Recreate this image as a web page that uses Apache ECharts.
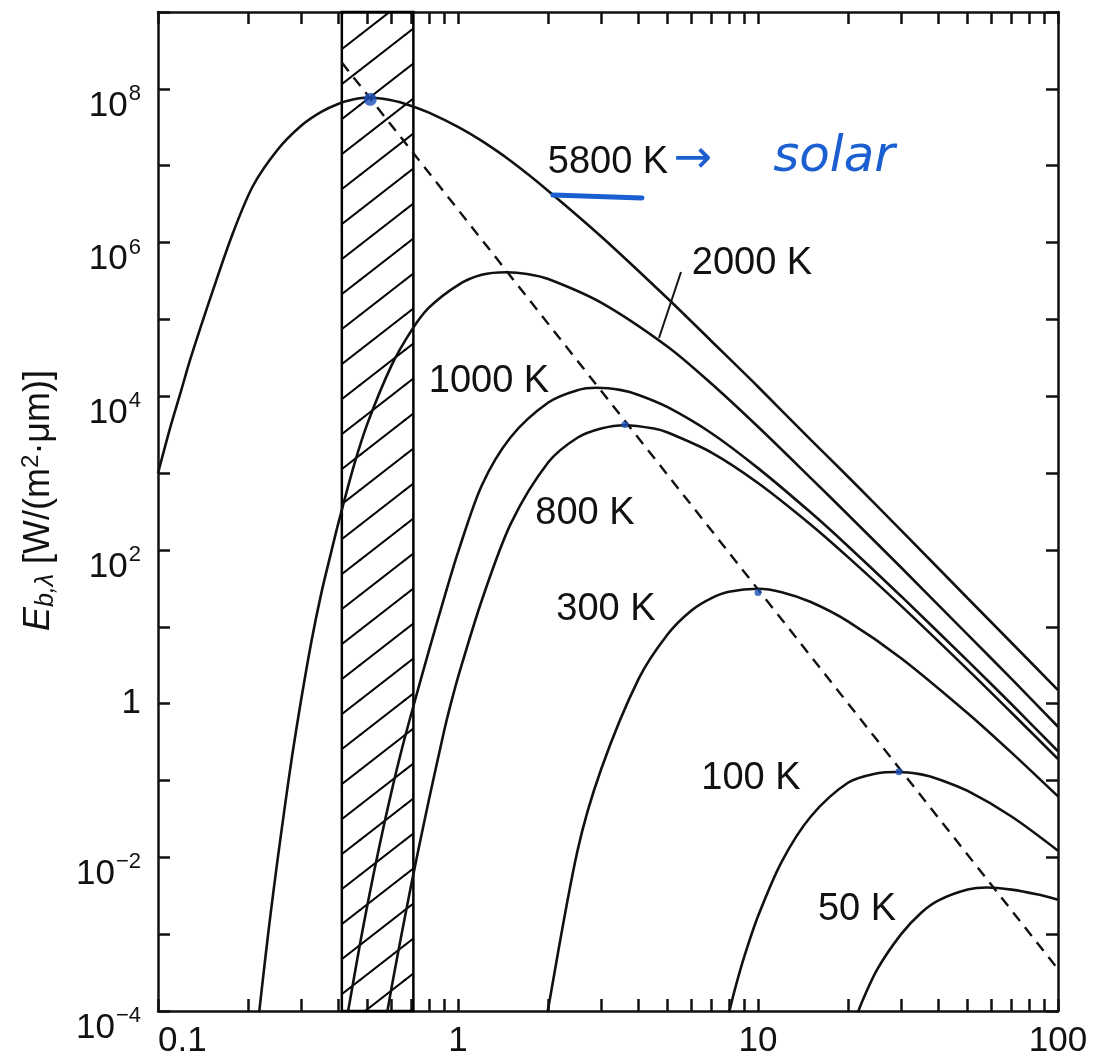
<!DOCTYPE html>
<html>
<head>
<meta charset="utf-8">
<script src="https://cdn.jsdelivr.net/npm/echarts@6/dist/echarts.min.js"></script>
<style>
  html, body { margin: 0; padding: 0; background: #fff; }
  #main { width: 1093px; height: 1064px; }
</style>
</head>
<body>
<div id="main"></div>
<script>
// wavelength (um) / emissive power E_b,lambda (W/m2.um)
var lam5800 = [0.1, 0.11, 0.12, 0.128, 0.1525, 0.178, 0.207, 0.25, 0.3, 0.35, 0.4, 0.45, 0.5, 0.6, 0.7, 0.8, 1, 1.2, 1.5, 2, 3, 5, 7, 10, 15, 20, 30, 50, 70, 100];
var eb5800 = [1.0e3, 4.0e3, 1.26e4, 3.0e4, 2.4e5, 1.35e6, 5.4e6, 1.6e7, 3.3e7, 5.0e7, 6.4e7, 7.3e7, 7.7e7, 7.1e7, 6.0e7, 4.9e7, 3.2e7, 2.1e7, 1.15e7, 4.7e6, 1.2e6, 1.87e5, 5.2e4, 1.33e4, 2.7e3, 890, 180, 23.5, 6.2, 1.5];

var lam2000 = [0.215, 0.222, 0.235, 0.25, 0.265, 0.28, 0.3, 0.325, 0.35, 0.375, 0.4, 0.45, 0.5, 0.6, 0.7, 0.8, 1, 1.2, 1.45, 1.7, 2, 3, 5, 7, 10, 15, 20, 30, 50, 70, 100];
var eb2000 = [6.5e-5, 2.0e-4, 1.35e-3, 8.9e-3, 0.047, 0.21, 1.12, 6.6, 27, 83, 230, 1.26e3, 4.5e3, 2.5e4, 7.2e4, 1.42e5, 2.8e5, 3.8e5, 4.1e5, 3.9e5, 3.35e5, 1.65e5, 4.4e4, 1.45e4, 4.0e3, 860, 285, 59, 7.9, 2.1, 0.5];

var lam1000 = [0.425, 0.443, 0.47, 0.5, 0.55, 0.6, 0.65, 0.707, 0.8, 0.9, 1, 1.2, 1.5, 2, 2.5, 2.9, 3.5, 4, 5, 7, 10, 15, 20, 30, 50, 70, 100];
var eb1000 = [7.6e-5, 1.9e-4, 7.0e-4, 2.5e-3, 0.0155, 0.071, 0.257, 0.87, 4.9, 24, 93, 690, 2.95e3, 8.3e3, 1.2e4, 1.29e4, 1.2e4, 1.04e4, 7.2e3, 3.3e3, 1.16e3, 306, 111, 25, 3.6, 0.98, 0.24];

var lam800 = [0.575, 0.603, 0.64, 0.7, 0.75, 0.8, 0.9, 0.94, 1, 1.2, 1.5, 2, 2.5, 3, 3.6, 4.5, 5, 7, 10, 15, 20, 30, 50, 70, 100];
var eb800 = [7.7e-5, 2.2e-4, 7.6e-4, 4.6e-3, 0.017, 0.056, 0.45, 0.9, 2.2, 22, 220, 1.38e3, 2.88e3, 3.8e3, 4.2e3, 3.8e3, 3.37e3, 1.85e3, 743, 213, 80, 18.7, 2.77, 0.76, 0.19];

var lam300 = [1.9, 2, 2.5, 3, 4, 5, 6, 7, 8, 10, 12, 15, 20, 30, 50, 70, 100];
var eb300 = [3e-5, 1.1e-4, 0.012, 0.14, 2.1, 8.0, 16.3, 23.6, 28.5, 31.2, 28.2, 21, 11.7, 3.9, 0.75, 0.23, 0.062];

var lam100 = [7.9, 8.4, 9, 10, 12, 15, 20, 25, 29, 35, 40, 50, 70, 100];
var eb100 = [7.7e-5, 2e-4, 5.1e-4, 1.71e-3, 8.8e-3, 0.034, 0.094, 0.124, 0.129, 0.12, 0.104, 0.073, 0.034, 0.0122];

var lam50 = [21, 22, 25, 30, 35, 40, 50, 58, 70, 85, 100];
var eb50 = [7e-5, 1.2e-4, 3.5e-4, 1.0e-3, 1.9e-3, 2.75e-3, 3.8e-3, 4.05e-3, 3.8e-3, 3.3e-3, 2.8e-3];

// locus of the maxima (dashed) and the blue pen marks on the peaks
var wienLam = [0.41, 100];
var wienEb = [2.2e8, 3.5e-4];
var peakLam = [0.51, 3.6, 10, 29.5];
var peakEb = [7.3e7, 4.3e3, 28, 0.13];

// visible band (hatched)
var visibleBand = [0.41, 0.71];

var xTickVals = [0.1, 0.2, 0.3, 0.4, 0.5, 0.6, 0.7, 0.8, 0.9, 1, 2, 3, 4, 5, 6, 7, 8, 9, 10, 20, 30, 40, 50, 60, 70, 80, 90, 100];
var xLabelVals = [0.1, 1, 10, 100];
var yTickVals = [1e-4, 1e-3, 1e-2, 1e-1, 1, 1e1, 1e2, 1e3, 1e4, 1e5, 1e6, 1e7, 1e8, 1e9];
var yLabelVals = [1e-4, 1e-2, 1, 1e2, 1e4, 1e6, 1e8];

var FONT = '"Liberation Sans", Arial, Helvetica, sans-serif';
var INK = '#111';
var BLUE = '#1b5fd1';

function pairs(xs, ys) {
  return xs.map(function (x, i) { return [x, ys[i]]; });
}

function hatchPattern() {
  var w = 45, h = 35;
  var c = document.createElement('canvas');
  c.width = w; c.height = h;
  var g = c.getContext('2d');
  g.strokeStyle = '#000';
  g.lineWidth = 2;
  [[0, 0], [w, 0], [-w, 0], [0, h], [0, -h]].forEach(function (o) {
    g.beginPath();
    g.moveTo(o[0] - 6, o[1] + h + h * 6 / w);
    g.lineTo(o[0] + w + 6, o[1] - h * 6 / w);
    g.stroke();
  });
  return c;
}

// 10^n labels: base pushed down by padding, exponent sits level with the tick
function yLabel(v) {
  var e = Math.round(Math.log10(v));
  if (e === 0) return '1';
  var s = e < 0 ? '\u2212' + (-e) : '' + e;
  return '{b|10}{s|' + s + '}';
}

function curve(name, xs, ys) {
  return {
    name: name,
    type: 'line',
    data: pairs(xs, ys),
    showSymbol: false,
    smooth: 0.3,
    smoothMonotone: null,
    lineStyle: { color: INK, width: 2.6 },
    silent: true,
    z: 3
  };
}

var chart = echarts.init(document.getElementById('main'));

var tickStyle = { show: true, inside: true, length: 12, lineStyle: { color: INK, width: 2.5 } };
var lineStyle = { show: true, onZero: false, lineStyle: { color: INK, width: 2.5 } };

var series = [
  curve('5800 K', lam5800, eb5800),
  curve('2000 K', lam2000, eb2000),
  curve('1000 K', lam1000, eb1000),
  curve('800 K', lam800, eb800),
  curve('300 K', lam300, eb300),
  curve('100 K', lam100, eb100),
  curve('50 K', lam50, eb50),
  {
    name: 'maxima',
    type: 'line',
    data: pairs(wienLam, wienEb),
    showSymbol: false,
    silent: true,
    lineStyle: { color: INK, width: 2.4, type: [11, 8] },
    z: 3
  },
  {
    name: 'visible',
    type: 'line',
    data: [],
    silent: true,
    markArea: {
      silent: true,
      itemStyle: {
        color: { image: hatchPattern(), repeat: 'repeat' },
        borderColor: '#000',
        borderWidth: 2.5
      },
      data: [[{ xAxis: visibleBand[0] }, { xAxis: visibleBand[1] }]]
    },
    z: 2
  },
  {
    name: 'peaks',
    type: 'scatter',
    data: pairs(peakLam, peakEb),
    symbolSize: function (v, p) { return p.dataIndex === 0 ? 13 : 7; },
    itemStyle: { color: '#1d4fb8' },
    silent: true,
    z: 4
  }
];

var option = {
  backgroundColor: '#fff',
  animation: false,
  grid: { left: 158, right: 35, top: 12, bottom: 53, containLabel: false },
  xAxis: [
    {
      type: 'log', logBase: 10, min: 0.1, max: 100, position: 'bottom',
      axisLine: lineStyle,
      axisTick: Object.assign({ customValues: xTickVals }, tickStyle),
      axisLabel: {
        customValues: xLabelVals,
        margin: 13,
        fontSize: 35, fontFamily: FONT, color: INK,
        alignMinLabel: 'left',
        formatter: function (v) { return String(Number(v.toPrecision(3))); }
      },
      splitLine: { show: false }
    },
    {
      type: 'log', logBase: 10, min: 0.1, max: 100, position: 'top',
      axisLine: lineStyle,
      axisTick: Object.assign({ customValues: xTickVals }, tickStyle),
      axisLabel: { show: false },
      splitLine: { show: false }
    }
  ],
  yAxis: [
    {
      type: 'log', logBase: 10, min: 1e-4, max: 1e9, position: 'left',
      axisLine: lineStyle,
      axisTick: Object.assign({ customValues: yTickVals }, tickStyle),
      axisLabel: {
        customValues: yLabelVals,
        margin: 17,
        fontSize: 35, fontFamily: FONT, color: INK,
        formatter: yLabel,
        rich: {
          b: { fontSize: 35, fontFamily: FONT, color: INK, lineHeight: 34, padding: [34, 0, 0, 0] },
          s: { fontSize: 22, fontFamily: FONT, color: INK, lineHeight: 21, padding: [10, 0, 0, 1] }
        }
      },
      splitLine: { show: false },
      name: '{e|E}{sub|b,\u03bb} [W/(m{sup|2}\u00b7\u03bcm)]',
      nameLocation: 'middle',
      nameRotate: 90,
      nameGap: 98,
      nameTextStyle: {
        fontSize: 36, fontFamily: FONT, color: INK, lineHeight: 42,
        padding: [0, 0, 0, 22],
        rich: {
          e: { fontSize: 36, fontFamily: FONT, fontStyle: 'italic', color: INK, lineHeight: 42 },
          sub: { fontSize: 25, fontFamily: FONT, fontStyle: 'italic', color: INK, lineHeight: 25, padding: [15, 0, 0, 0] },
          sup: { fontSize: 24, fontFamily: FONT, color: INK, lineHeight: 24, padding: [0, 0, 15, 0] }
        }
      }
    },
    {
      type: 'log', logBase: 10, min: 1e-4, max: 1e9, position: 'right',
      axisLine: lineStyle,
      axisTick: Object.assign({ customValues: yTickVals }, tickStyle),
      axisLabel: { show: false },
      splitLine: { show: false }
    }
  ],
  series: series,
  graphic: [
    { type: 'text', x: 608, y: 163, z: 10, style: { text: '5800 K', fontSize: 38, fontFamily: FONT, fill: INK, align: 'center', verticalAlign: 'middle' } },
    { type: 'text', x: 752, y: 264, z: 10, style: { text: '2000 K', fontSize: 38, fontFamily: FONT, fill: INK, align: 'center', verticalAlign: 'middle' } },
    { type: 'text', x: 489, y: 382, z: 10, style: { text: '1000 K', fontSize: 38, fontFamily: FONT, fill: INK, align: 'center', verticalAlign: 'middle' } },
    { type: 'text', x: 585, y: 514, z: 10, style: { text: '800 K', fontSize: 38, fontFamily: FONT, fill: INK, align: 'center', verticalAlign: 'middle' } },
    { type: 'text', x: 606, y: 610, z: 10, style: { text: '300 K', fontSize: 38, fontFamily: FONT, fill: INK, align: 'center', verticalAlign: 'middle' } },
    { type: 'text', x: 751, y: 779, z: 10, style: { text: '100 K', fontSize: 38, fontFamily: FONT, fill: INK, align: 'center', verticalAlign: 'middle' } },
    { type: 'text', x: 857, y: 910, z: 10, style: { text: '50 K', fontSize: 38, fontFamily: FONT, fill: INK, align: 'center', verticalAlign: 'middle' } },
    { type: 'line', z: 10, shape: { x1: 681, y1: 272, x2: 659, y2: 338 }, style: { stroke: INK, lineWidth: 2 } },
    { type: 'line', z: 10, shape: { x1: 553, y1: 195, x2: 642, y2: 198 }, style: { stroke: BLUE, lineWidth: 5, lineCap: 'round' } },
    { type: 'text', x: 693, y: 160, z: 10, style: { text: '\u2192', fontSize: 46, fontFamily: '"DejaVu Sans"', fill: BLUE, align: 'center', verticalAlign: 'middle' } },
    { type: 'text', x: 834, y: 158, z: 10, style: { text: 'solar', fontSize: 50, fontFamily: '"DejaVu Sans"', fontStyle: 'italic', fill: BLUE, align: 'center', verticalAlign: 'middle' } }
  ]
};

chart.setOption(option);
</script>
</body>
</html>
